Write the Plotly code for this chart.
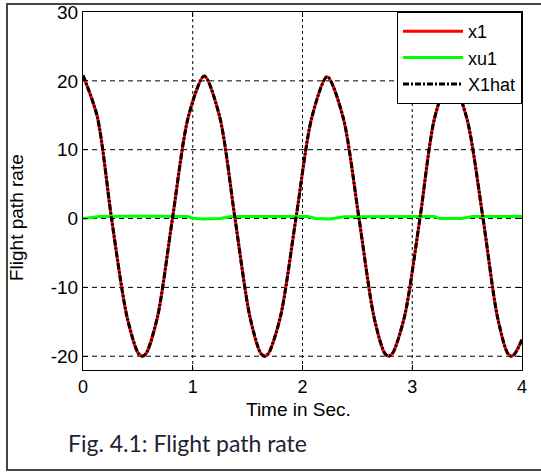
import plotly.graph_objects as go

# Time samples (s) and values
t_x1 = [0.000, 0.130, 0.260, 0.400, 0.505, 0.540, 0.575, 0.680, 0.815, 0.960, 1.105,
        1.245, 1.385, 1.520, 1.620, 1.655, 1.690, 1.800, 1.940, 2.085, 2.225,
        2.370, 2.515, 2.650, 2.750, 2.785, 2.820, 2.930, 3.070, 3.205, 3.345,
        3.495, 3.645, 3.775, 3.870, 3.905, 3.940, 4.000]
x1 = [20.8, 14.8, 0.0, -14.2, -19.6, -20.0, -19.6, -14.2, 0.0, 14.8, 20.7,
      14.8, 0.0, -14.2, -19.6, -20.0, -19.6, -14.2, 0.0, 14.7, 20.6,
      14.7, 0.0, -14.2, -19.6, -20.0, -19.6, -14.2, 0.0, 14.7, 20.6,
      14.7, 0.0, -14.2, -19.6, -20.0, -19.5, -17.6]
x1hat = list(x1)

t_xu1 = [0.0, 0.15, 0.5, 0.95, 1.0, 1.1, 1.25, 1.35, 2.05, 2.12, 2.25, 2.38, 3.2, 3.25, 3.45, 3.55, 4.0]
xu1 = [0.0, 0.3, 0.35, 0.3, 0.05, -0.05, 0.0, 0.3, 0.3, 0.0, -0.05, 0.25, 0.3, 0.0, 0.0, 0.3, 0.3]

x_ticks = [0, 1, 2, 3, 4]
y_ticks = [-20, -10, 0, 10, 20, 30]
y_tick_text = ["-20", "-10", "0", "10", "20", "30"]

FONT = "Liberation Sans, Arial, sans-serif"
FS = 19

# plot area in pixels: left 83, right 522, top 12, bottom 370
PW, PH = 439.0, 358.0

fig = go.Figure()
fig.add_trace(go.Scatter(x=t_x1, y=x1, name="x1", mode="lines",
                         line=dict(color="#ff0000", width=3, shape="spline", smoothing=0.8)))
fig.add_trace(go.Scatter(x=t_xu1, y=xu1, name="xu1", mode="lines",
                         line=dict(color="#00ff00", width=3)))
fig.add_trace(go.Scatter(x=t_x1, y=x1hat, name="X1hat", mode="lines",
                         line=dict(color="#000000", width=3, dash="6px,2px,2px,2px",
                                   shape="spline", smoothing=0.8)))

# grid lines
for xv in [1, 2, 3]:
    fig.add_shape(type="line", x0=xv, x1=xv, y0=-22, y1=30, xref="x", yref="y",
                  line=dict(color="#000000", width=1, dash="3px,3px"), layer="below")
for yv in [-20, -10, 0, 10, 20]:
    fig.add_shape(type="line", x0=0, x1=4, y0=yv, y1=yv, xref="x", yref="y",
                  line=dict(color="#000000", width=1, dash="5px,4px"), layer="below")

# outer frame
fig.add_shape(type="rect", xref="paper", yref="paper",
              x0=-(83 - 7) / PW, x1=1 + (545 - 522) / PW,
              y0=-(470 - 370) / PH, y1=1 + (12 - 4) / PH,
              line=dict(color="#444444", width=2))

fig.update_layout(
    width=541, height=473, autosize=False,
    margin=dict(l=83, r=19, t=12, b=103, autoexpand=False),
    paper_bgcolor="white", plot_bgcolor="white",
    font=dict(family=FONT, size=FS, color="#000000"),
    showlegend=True,
    legend=dict(x=1, y=1, xanchor="right", yanchor="top",
                bgcolor="white", bordercolor="#000000", borderwidth=1,
                font=dict(family=FONT, size=18), itemwidth=60,
                tracegroupgap=0),
    xaxis=dict(range=[0, 4], tickvals=x_ticks, showgrid=False, zeroline=False,
               automargin=False,
               showline=True, linecolor="#000000", linewidth=1, mirror="ticks",
               ticks="inside", ticklen=5, tickcolor="#000000",
               tickfont=dict(family=FONT, size=18)),
    yaxis=dict(range=[-22, 30], tickvals=y_ticks, ticktext=y_tick_text,
               automargin=False,
               showgrid=False, zeroline=False,
               showline=True, linecolor="#000000", linewidth=1, mirror="ticks",
               ticks="inside", ticklen=5, tickcolor="#000000",
               tickfont=dict(family=FONT, size=FS)),
    annotations=[
        dict(text="Time in Sec.", xref="paper", yref="paper", x=(298 - 83) / PW, y=-(409 - 370) / PH,
             showarrow=False, font=dict(family=FONT, size=FS), yanchor="middle"),
        dict(text="Flight path rate", xref="paper", yref="paper", x=-(83 - 16) / PW, y=(370 - 218) / PH,
             showarrow=False, textangle=-90, font=dict(family=FONT, size=FS),
             xanchor="center", yanchor="middle"),
        dict(text="Fig. 4.1: Flight path rate", xref="paper", yref="paper",
             x=-(83 - 66) / PW, y=-(443 - 370) / PH, xanchor="left", yanchor="middle",
             showarrow=False, font=dict(family="Lato, Carlito, sans-serif", size=23, color="#1c2433")),
    ],
)

fig.write_html("out.html", config={"displayModeBar": False},
               post_script="document.body.style.margin='0';document.body.style.padding='0';")
